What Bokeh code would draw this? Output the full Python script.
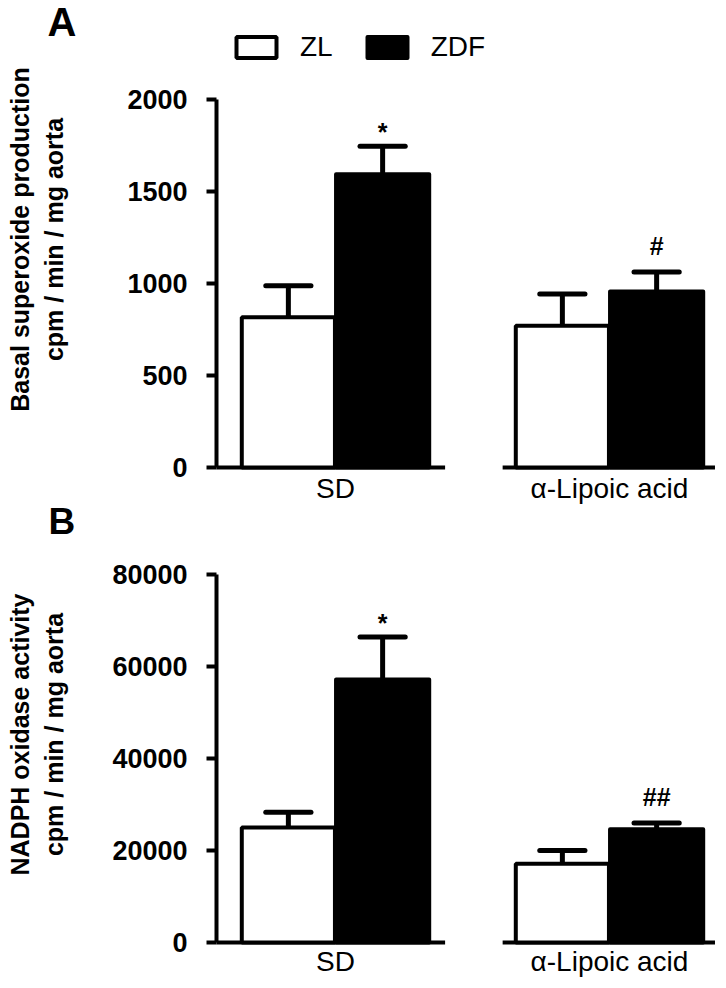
import numpy as np
from bokeh.plotting import figure
from bokeh.models import Range1d, FixedTicker, Label, Legend, LegendItem, LinearAxis
from bokeh.embed import file_html
from bokeh.resources import INLINE
from bokeh.core.properties import value

# ---------------- data ----------------
groups = ["SD", "α-Lipoic acid"]
series = ["ZL", "ZDF"]

basal_zl = [815, 770]
basal_zl_err = [172, 172]
basal_zdf = [1592, 955]
basal_zdf_err = [152, 106]
basal_marks = ["*", "#"]          # significance marks above the ZDF bars
basal_ticks = [0, 500, 1000, 1500, 2000]
basal_title = ["Basal superoxide production", "cpm / min / mg aorta"]

nadph_zl = [25000, 17100]
nadph_zl_err = [3300, 2900]
nadph_zdf = [57200, 24600]
nadph_zdf_err = [9200, 1400]
nadph_marks = ["*", "##"]
nadph_ticks = [0, 20000, 40000, 60000, 80000]
nadph_title = ["NADPH oxidase activity", "cpm / min / mg aorta"]

# ---------------- layout constants (pixels) ----------------
FONT = "Liberation Sans"
AXIS_SX = 216              # page x of the y axes
XA = 0.5657                # data x of the y axes
PX = 274.0                 # pixels per x unit
W, H = 718, 980
A_ZERO, A_SCALE = 467, 0.18425     # page y of 0, px per unit (panel A)
B_ZERO, B_SCALE = 942, 0.0046      # panel B


def sx_to_x(sx):
    return XA + (sx - AXIS_SX) / PX


def sy_to_ya(sy):
    return (A_ZERO - sy) / A_SCALE


p = figure(width=W, height=H, x_range=Range1d(sx_to_x(0), sx_to_x(W)),
           y_range=Range1d(sy_to_ya(H), sy_to_ya(0)),
           output_backend="svg", toolbar_location=None,
           min_border_left=0, min_border_right=0, min_border_top=0,
           min_border_bottom=0)
p.extra_y_ranges = {"b": Range1d((B_ZERO - H) / B_SCALE, B_ZERO / B_SCALE)}
p.outline_line_color = None
p.grid.visible = False


def style_yaxis(ya, ticks):
    ya.fixed_location = XA
    ya.bounds = (ticks[0], ticks[-1])
    ya.ticker = FixedTicker(ticks=ticks)
    ya.axis_line_width = 4
    ya.axis_line_color = "black"
    ya.major_tick_line_width = 4
    ya.major_tick_out = 10
    ya.major_tick_in = 0
    ya.minor_tick_line_color = None
    ya.major_label_text_font = FONT
    ya.major_label_text_font_size = "27px"
    ya.major_label_text_font_style = "bold"
    ya.major_label_text_color = "black"
    ya.major_label_standoff = 19


def style_xaxis(xa, centers, standoff):
    xa.fixed_location = 0
    xa.ticker = FixedTicker(ticks=list(centers))
    xa.major_label_overrides = {i + 1: g for i, g in enumerate(groups)}
    xa.axis_line_color = None
    xa.major_tick_line_color = None
    xa.major_tick_out = 0
    xa.major_tick_in = 0
    xa.minor_tick_line_color = None
    xa.major_label_text_font = FONT
    xa.major_label_text_font_size = "28px"
    xa.major_label_text_color = "black"
    xa.major_label_standoff = standoff


def draw_panel(rng, zl, zl_err, zdf, zdf_err, marks):
    centers = np.arange(1, len(groups) + 1, dtype=float)
    off, bw, cap = 0.172, 0.34, 0.0825
    zl_x = centers - off
    zdf_x = centers + off

    # baselines (broken x axis)
    p.segment(x0=[XA, centers[1] - 0.39], y0=[0, 0],
              x1=[centers[0] + 0.40, centers[1] + 0.385], y1=[0, 0],
              line_width=4, line_color="black", y_range_name=rng)

    r_zl = p.vbar(x=zl_x, top=zl, bottom=0, width=bw, fill_color="white",
                  line_color="black", line_width=4, y_range_name=rng)
    r_zdf = p.vbar(x=zdf_x, top=zdf, bottom=0, width=bw, fill_color="black",
                   line_color="black", line_width=4, line_join="round",
                   y_range_name=rng)

    ex = np.concatenate([zl_x, zdf_x])
    lo = list(zl) + list(zdf)
    hi = [m + e for m, e in zip(zl, zl_err)] + [m + e for m, e in zip(zdf, zdf_err)]
    p.segment(x0=ex, y0=lo, x1=ex, y1=hi, line_width=5, line_color="black",
              y_range_name=rng)
    p.segment(x0=ex - cap, y0=hi, x1=ex + cap, y1=hi, line_width=5,
              line_color="black", line_cap="round", y_range_name=rng)

    zdf_hi = [m + e for m, e in zip(zdf, zdf_err)]
    for i, mk in enumerate(marks):
        p.text(x=[zdf_x[i]], y=[zdf_hi[i]], text=[mk], text_align="center",
               text_baseline="alphabetic", y_offset=(-14 if mk == "*" else -26),
               text_font=value(FONT), text_font_size="25px",
               text_font_style="bold", text_color="black", y_range_name=rng)
    return centers, r_zl, r_zdf


def add_titles(letter, letter_size, letter_pos, title, title_sy):
    for lsx, line in zip([19, 53.7], title):
        p.add_layout(Label(x=sx_to_x(lsx), y=sy_to_ya(title_sy), text=line,
                           angle=np.pi / 2, text_align="center",
                           text_baseline="alphabetic", text_font=FONT,
                           text_font_size="25px", text_font_style="bold",
                           text_color="black"))
    p.add_layout(Label(x=sx_to_x(letter_pos[0]), y=sy_to_ya(letter_pos[1]),
                       text=letter, text_align="left", text_baseline="alphabetic",
                       text_font=FONT, text_font_size=letter_size,
                       text_font_style="bold", text_color="black"))


# ---- panel A (default y range) ----
centers, r_zl, r_zdf = draw_panel("default", basal_zl, basal_zl_err, basal_zdf,
                                  basal_zdf_err, basal_marks)
style_yaxis(p.yaxis[0], basal_ticks)
style_xaxis(p.xaxis[0], centers, 5)
add_titles("A", "40px", (47, 21), basal_title, 239)

# ---- panel B (extra y range "b") ----
centers_b, _, _ = draw_panel("b", nadph_zl, nadph_zl_err, nadph_zdf,
                             nadph_zdf_err, nadph_marks)
yb = LinearAxis(y_range_name="b")
style_yaxis(yb, nadph_ticks)
p.add_layout(yb, "left")
xb = LinearAxis(y_range_name="b")
style_xaxis(xb, centers_b, 3)
p.add_layout(xb, "below")
add_titles("B", "37px", (48, 521), nadph_title, 734)

legend = Legend(items=[LegendItem(label=series[0], renderers=[r_zl]),
                       LegendItem(label=series[1], renderers=[r_zdf])],
                orientation="horizontal", location=(231, H - 63),
                glyph_width=50, glyph_height=26, label_standoff=19,
                spacing=29, padding=0, margin=0, border_line_color=None,
                background_fill_alpha=0, label_text_font=FONT,
                label_text_font_size="28px", label_text_color="black")
p.add_layout(legend)

open("out.html", "w").write(file_html(p, INLINE))
